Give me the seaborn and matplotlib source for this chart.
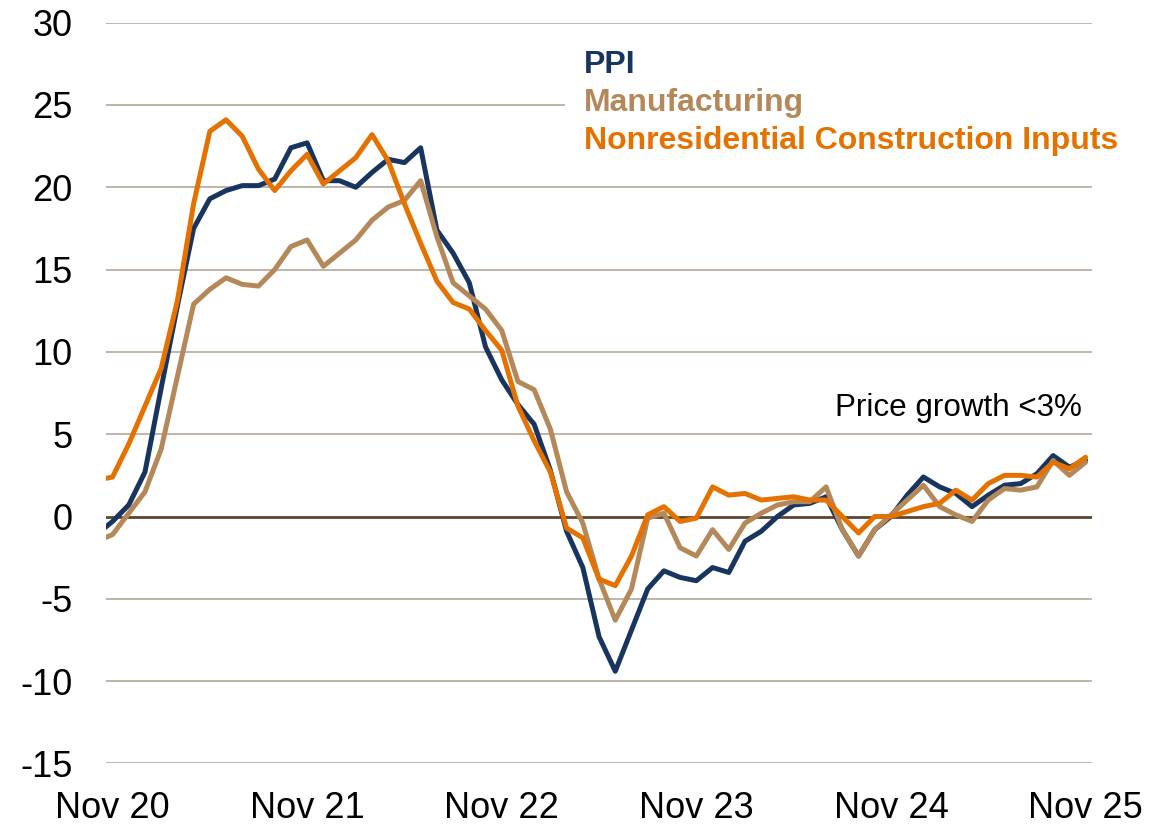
import numpy as np
import pandas as pd
import seaborn as sns
import matplotlib.pyplot as plt
from matplotlib.patches import Rectangle

# monthly y/y % change, Oct 2020 .. Nov 2025 (first month sits just off the left edge)
months = pd.date_range('2020-10-01', '2025-11-01', freq='MS')

ppi = [-1.1, -0.3, 0.7, 2.7, 7.8, 12.8, 17.5, 19.3, 19.8, 20.1, 20.1, 20.5, 22.4,
       22.7, 20.4, 20.4, 20.0, 20.9, 21.7, 21.5, 22.4, 17.4, 16.0, 14.2, 10.3, 8.3,
       6.8, 5.6, 2.8, -0.9, -3.1, -7.3, -9.4, -6.9, -4.4, -3.3, -3.7, -3.9, -3.1,
       -3.4, -1.5, -0.9, 0.0, 0.7, 0.8, 1.2, -0.8, -2.4, -0.8, 0.0, 1.3, 2.4, 1.8,
       1.4, 0.6, 1.3, 1.9, 2.0, 2.6, 3.7, 3.0, 3.4]

manufacturing = [-1.5, -1.1, 0.2, 1.5, 4.1, 8.5, 12.9, 13.8, 14.5, 14.1, 14.0, 15.0,
                 16.4, 16.8, 15.2, 16.0, 16.8, 18.0, 18.8, 19.2, 20.4, 17.0, 14.2,
                 13.4, 12.6, 11.3, 8.2, 7.7, 5.3, 1.5, -0.4, -3.8, -6.3, -4.4, -0.1,
                 0.2, -1.9, -2.4, -0.8, -2.0, -0.4, 0.2, 0.7, 0.9, 0.9, 1.8, -0.8,
                 -2.4, -0.8, 0.1, 1.0, 1.9, 0.6, 0.1, -0.3, 1.0, 1.7, 1.6, 1.8, 3.4,
                 2.5, 3.3]

nonres = [2.2, 2.4, 4.4, 6.7, 9.0, 13.1, 19.0, 23.4, 24.1, 23.1, 21.1, 19.8, 21.0,
          22.0, 20.2, 21.0, 21.8, 23.2, 21.6, 19.0, 16.6, 14.3, 13.0, 12.6, 11.3,
          10.1, 6.7, 4.6, 2.7, -0.7, -1.3, -3.8, -4.2, -2.4, 0.1, 0.6, -0.3, -0.1,
          1.8, 1.3, 1.4, 1.0, 1.1, 1.2, 1.0, 1.0, 0.0, -1.0, 0.0, 0.0, 0.3, 0.6,
          0.8, 1.6, 1.0, 2.0, 2.5, 2.5, 2.4, 3.3, 2.9, 3.6]

series_names = ['PPI', 'Manufacturing', 'Nonresidential Construction Inputs']
colors = ['#17355E', '#B5885A', '#E57200']
tick_labels = ['Nov 20', 'Nov 21', 'Nov 22', 'Nov 23', 'Nov 24', 'Nov 25']

# month index relative to Nov 2020
idx = (months.year - 2020) * 12 + months.month - 11
df = pd.DataFrame({'month': np.tile(idx, 3),
                   'value': ppi + manufacturing + nonres,
                   'series': np.repeat(series_names, len(months))})

sns.set_style('white')
plt.rcParams['font.family'] = ['Liberation Sans', 'DejaVu Sans']
plt.rcParams['axes.unicode_minus'] = False

fig = plt.figure(figsize=(11.73, 8.24), dpi=100)
ax = fig.add_axes([0.0904, 0.0735, 0.8406, 0.899])

sns.lineplot(data=df, x='month', y='value', hue='series', hue_order=series_names,
             palette=colors, linewidth=3.6, legend=False, ax=ax, zorder=3)

ax.set_xlim(-0.4, 60.4)
ax.set_ylim(-15, 30)
ax.set_yticks(np.arange(-15, 31, 5))
ax.set_xticks(np.arange(0, 61, 12))
ax.set_xticklabels(tick_labels)
ax.set_xlabel('')
ax.set_ylabel('')
for s in ax.spines.values():
    s.set_visible(False)
ax.tick_params(axis='both', length=0, labelsize=26, colors='black')
ax.tick_params(axis='y', pad=24)
ax.tick_params(axis='x', pad=20)

for y in np.arange(-15, 31, 5):
    if y == 0:
        ax.axhline(0, color='#5B4630', lw=2.0, zorder=2)
    else:
        ax.axhline(y, color='#BDB5A8', lw=1.4, zorder=1)

# white block behind the legend text
ax.add_patch(Rectangle((0.4655, 0.8146), 0.6, 0.162, transform=ax.transAxes,
                       facecolor='white', edgecolor='none', zorder=1.5, clip_on=False))

for name, c, yy in zip(series_names, colors, [0.932, 0.8807, 0.8294]):
    ax.text(0.4848, yy, name, transform=ax.transAxes, color=c, fontsize=23,
            fontweight='bold', va='baseline', ha='left', clip_on=False, zorder=5)

ax.text(59.8, 6.1, 'Price growth <3%', fontsize=22.6, ha='right', va='baseline',
        color='black', zorder=5)

fig.savefig('out.png', dpi=100)
